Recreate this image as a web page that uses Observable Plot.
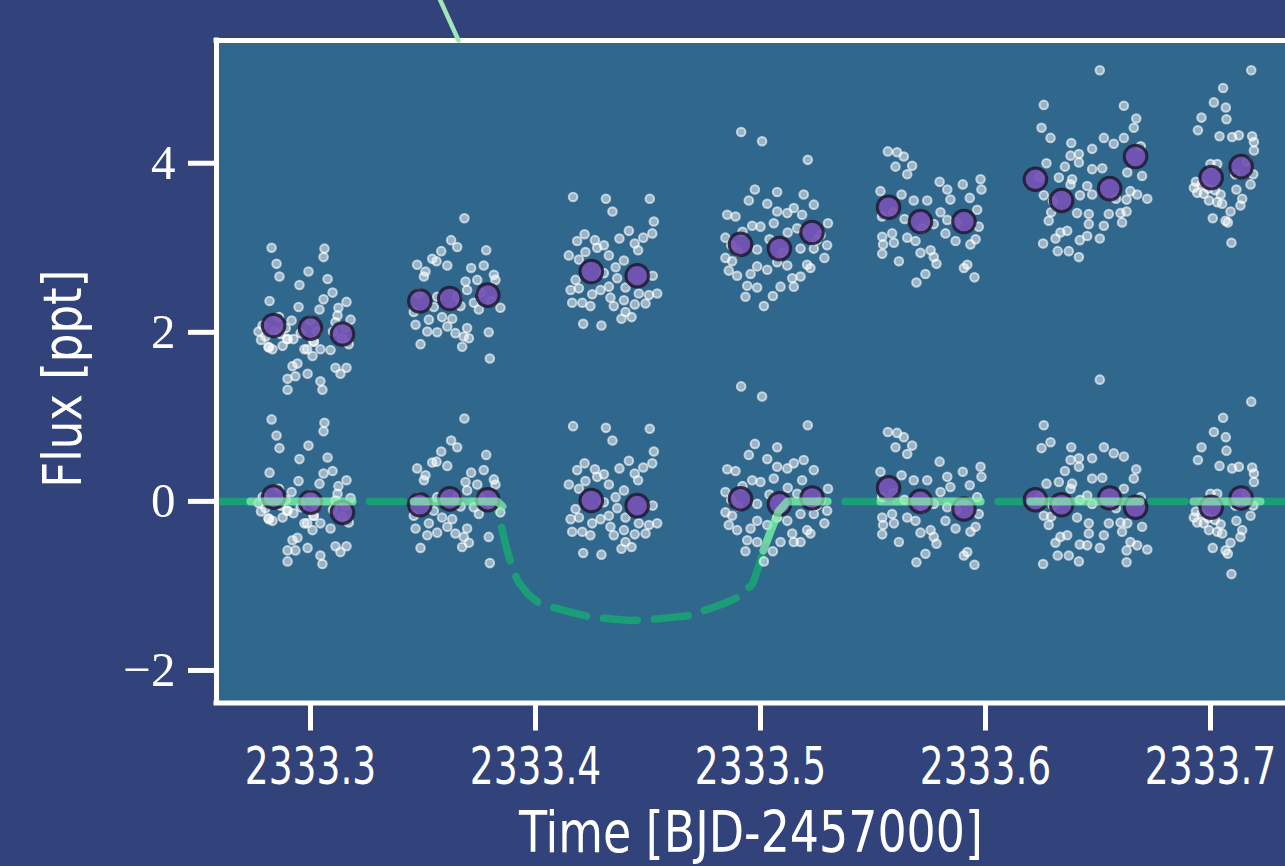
<!DOCTYPE html>
<html>
<head>
<meta charset="utf-8">
<script src="https://cdn.jsdelivr.net/npm/d3@7"></script>
<script src="https://cdn.jsdelivr.net/npm/@observablehq/plot@0.6"></script>
<style>
  html, body { margin: 0; padding: 0; background: #32437c; overflow: hidden; }
  #chart svg { display: block; }
</style>
</head>
<body>
<div id="chart"></div>
<script>
// ---------------- data ----------------
// Detrended flux [ppt] per observing block: [time BJD-2457000, flux]
const block1 = [[2333.2827,0.97],[2333.2849,0.78],[2333.2862,0.63],[2333.3062,0.93],[2333.3058,0.83],[2333.2991,0.66],[2333.2951,0.50],[2333.3076,0.52],[2333.2818,0.34],[2333.3058,0.33],[2333.3098,0.36],[2333.3160,0.25],[2333.2947,0.24],[2333.3040,0.21],[2333.3124,0.18],[2333.3120,0.09],[2333.2916,0.11],[2333.2787,0.05],[2333.2800,-0.08],[2333.2813,-0.20],[2333.2831,-0.23],[2333.2876,-0.19],[2333.2898,-0.11],[2333.2924,-0.14],[2333.2956,-0.07],[2333.3013,-0.17],[2333.3044,-0.26],[2333.2973,-0.26],[2333.3009,-0.34],[2333.3089,-0.32],[2333.2942,-0.43],[2333.2920,-0.46],[2333.2898,-0.58],[2333.2933,-0.58],[2333.2898,-0.71],[2333.2987,-0.55],[2333.3044,-0.64],[2333.3053,-0.74],[2333.3111,-0.53],[2333.3160,-0.53],[2333.3133,-0.60],[2333.3156,-0.05],[2333.3178,0.04],[2333.3111,0.01],[2333.2867,-0.05],[2333.2769,-0.02],[2333.2780,-0.12],[2333.2840,-0.02],[2333.2890,0.02],[2333.3000,0.08],[2333.3030,-0.05],[2333.3100,-0.10],[2333.3140,-0.18],[2333.2860,0.15],[2333.3170,-0.25],[2333.2815,-0.21],[2333.2896,-0.11],[2333.2985,-0.26],[2333.3015,-0.17]];
const block2 = [[2333.3684,0.98],[2333.3625,0.72],[2333.3652,0.64],[2333.3581,0.59],[2333.3541,0.46],[2333.3560,0.47],[2333.3608,0.42],[2333.3474,0.39],[2333.3511,0.31],[2333.3504,0.25],[2333.3714,0.34],[2333.3781,0.55],[2333.3770,0.37],[2333.3815,0.26],[2333.3689,0.23],[2333.3741,0.20],[2333.3822,0.20],[2333.3844,-0.13],[2333.3459,-0.17],[2333.3467,-0.32],[2333.3526,-0.26],[2333.3519,-0.40],[2333.3563,-0.37],[2333.3585,-0.19],[2333.3630,-0.21],[2333.3608,-0.30],[2333.3644,-0.38],[2333.3681,-0.42],[2333.3696,-0.32],[2333.3674,-0.54],[2333.3704,-0.49],[2333.3489,-0.55],[2333.3792,-0.42],[2333.3797,-0.73],[2333.3748,-0.15],[2333.3726,-0.07],[2333.3667,-0.06],[2333.3548,-0.11],[2333.3563,0.05],[2333.3652,0.05],[2333.3696,0.13],[2333.3756,0.05],[2333.3804,-0.05],[2333.3481,0.05]];
const block3 = [[2333.4167,0.89],[2333.4313,0.87],[2333.4342,0.72],[2333.4508,0.86],[2333.4526,0.59],[2333.4519,0.45],[2333.4479,0.40],[2333.4415,0.48],[2333.4373,0.39],[2333.4441,0.33],[2333.4456,0.25],[2333.4218,0.45],[2333.4185,0.37],[2333.4264,0.38],[2333.4304,0.32],[2333.4274,0.29],[2333.4222,0.24],[2333.4148,0.20],[2333.4326,0.20],[2333.4193,0.15],[2333.4393,0.13],[2333.4356,0.05],[2333.4304,-0.01],[2333.4363,-0.08],[2333.4178,-0.09],[2333.4156,-0.21],[2333.4193,-0.19],[2333.4521,-0.05],[2333.4326,-0.17],[2333.4289,-0.21],[2333.4252,-0.26],[2333.4333,-0.30],[2333.4400,-0.19],[2333.4459,-0.26],[2333.4504,-0.28],[2333.4541,-0.26],[2333.4163,-0.36],[2333.4208,-0.36],[2333.4244,-0.40],[2333.4348,-0.40],[2333.4393,-0.34],[2333.4441,-0.39],[2333.4489,-0.38],[2333.4400,-0.48],[2333.4382,-0.56],[2333.4427,-0.54],[2333.4212,-0.61],[2333.4293,-0.63]];
const block4 = [[2333.4914,1.36],[2333.5007,1.24],[2333.5210,0.90],[2333.4975,0.68],[2333.5074,0.64],[2333.4948,0.55],[2333.5030,0.50],[2333.4852,0.38],[2333.4889,0.36],[2333.5074,0.41],[2333.5148,0.45],[2333.5192,0.49],[2333.5237,0.37],[2333.5119,0.39],[2333.4963,0.25],[2333.5000,0.23],[2333.5059,0.27],[2333.5121,0.16],[2333.5185,0.25],[2333.5300,0.15],[2333.4844,0.11],[2333.5296,-0.11],[2333.4844,-0.13],[2333.4874,-0.17],[2333.4985,-0.23],[2333.5074,-0.19],[2333.5119,-0.23],[2333.5178,-0.15],[2333.5237,-0.15],[2333.5284,-0.26],[2333.4859,-0.28],[2333.4896,-0.34],[2333.4956,-0.32],[2333.5030,-0.28],[2333.5141,-0.38],[2333.5222,-0.38],[2333.4941,-0.46],[2333.4985,-0.48],[2333.5089,-0.48],[2333.5148,-0.48],[2333.5178,-0.48],[2333.4933,-0.59],[2333.5055,-0.59],[2333.5015,-0.71],[2333.5207,-0.34],[2333.5267,0.01],[2333.4985,-0.03],[2333.5163,0.09],[2333.4870,0.02],[2333.4900,-0.06],[2333.5040,0.08],[2333.5100,-0.08],[2333.5250,-0.05],[2333.4920,0.18]];
const block5 = [[2333.5566,0.82],[2333.5607,0.81],[2333.5637,0.76],[2333.5600,0.64],[2333.5674,0.66],[2333.5652,0.56],[2333.5796,0.47],[2333.5899,0.35],[2333.5978,0.41],[2333.5982,0.29],[2333.5533,0.35],[2333.5627,0.31],[2333.5681,0.25],[2333.5741,0.25],[2333.5830,0.29],[2333.5800,0.11],[2333.5844,0.17],[2333.5930,0.19],[2333.5963,0.05],[2333.5541,-0.19],[2333.5585,-0.15],[2333.5545,-0.28],[2333.5593,-0.26],[2333.5541,-0.39],[2333.5615,-0.48],[2333.5652,-0.19],[2333.5689,-0.23],[2333.5711,-0.37],[2333.5756,-0.34],[2333.5770,-0.42],[2333.5782,-0.50],[2333.5733,-0.62],[2333.5693,-0.72],[2333.5822,-0.23],[2333.5867,-0.32],[2333.5933,-0.36],[2333.5956,-0.30],[2333.5919,-0.60],[2333.5904,-0.64],[2333.5951,-0.75],[2333.5970,-0.15],[2333.5770,-0.03],[2333.5830,-0.07],[2333.5590,0.10],[2333.5640,0.02],[2333.5720,-0.08],[2333.5870,-0.10],[2333.5540,0.05]];
const block6 = [[2333.6508,1.44],[2333.6259,0.90],[2333.6289,0.70],[2333.6249,0.63],[2333.6381,0.64],[2333.6526,0.64],[2333.6570,0.57],[2333.6615,0.53],[2333.6474,0.51],[2333.6378,0.49],[2333.6415,0.51],[2333.6415,0.41],[2333.6670,0.38],[2333.6353,0.36],[2333.6659,0.27],[2333.6474,0.27],[2333.6519,0.28],[2333.6326,0.23],[2333.6385,0.21],[2333.6271,0.21],[2333.6378,0.15],[2333.6615,0.15],[2333.6452,0.07],[2333.6474,-0.03],[2333.6259,-0.17],[2333.6292,-0.18],[2333.6281,-0.28],[2333.6407,-0.19],[2333.6459,-0.26],[2333.6459,-0.38],[2333.6363,-0.40],[2333.6333,-0.42],[2333.6311,-0.49],[2333.6419,-0.51],[2333.6526,-0.40],[2333.6548,-0.26],[2333.6600,-0.25],[2333.6607,-0.36],[2333.6630,-0.26],[2333.6696,-0.30],[2333.6644,-0.48],[2333.6674,-0.52],[2333.6719,-0.57],[2333.6508,-0.55],[2333.6627,-0.58],[2333.6321,-0.64],[2333.6370,-0.64],[2333.6415,-0.71],[2333.6256,-0.74],[2333.6627,-0.72],[2333.6452,-0.52],[2333.6240,0.05],[2333.6300,-0.05],[2333.6420,0.02],[2333.6580,-0.08],[2333.6690,0.05]];
const block7 = [[2333.7181,1.18],[2333.7056,0.99],[2333.7015,0.82],[2333.7068,0.76],[2333.6960,0.64],[2333.7071,0.60],[2333.6944,0.49],[2333.7040,0.42],[2333.7096,0.39],[2333.7126,0.41],[2333.7185,0.40],[2333.7193,0.33],[2333.7193,0.23],[2333.7030,0.09],[2333.7000,0.09],[2333.7178,-0.17],[2333.7115,-0.23],[2333.6941,-0.25],[2333.6970,-0.26],[2333.6993,-0.34],[2333.7030,-0.36],[2333.7052,-0.38],[2333.7141,-0.34],[2333.7133,-0.42],[2333.7089,-0.49],[2333.7010,-0.55],[2333.7067,-0.58],[2333.7077,-0.62],[2333.7093,-0.86],[2333.6926,-0.19],[2333.6935,-0.12],[2333.6960,-0.15],[2333.6990,-0.20],[2333.7020,-0.22],[2333.7045,-0.27],[2333.7110,-0.05],[2333.7160,0.10],[2333.7190,-0.05]];

// Binned points: time, detrended flux, raw (un-detrended) flux
const binTime = [2333.2836, 2333.3000, 2333.3142, 2333.3486, 2333.3619, 2333.3788, 2333.4248, 2333.4452, 2333.4911, 2333.5084, 2333.5229, 2333.5569, 2333.5711, 2333.5904, 2333.6222, 2333.6338, 2333.6552, 2333.6667, 2333.7003, 2333.7136];
const binDetrended = [0.05, -0.01, -0.13, -0.04, 0.03, 0.02, 0.01, -0.05, 0.03, -0.03, 0.04, 0.16, 0.00, -0.09, 0.02, -0.04, 0.04, -0.07, -0.07, 0.04];
const binRaw = [2.08, 2.05, 1.98, 2.37, 2.40, 2.44, 2.72, 2.67, 3.04, 2.99, 3.18, 3.48, 3.31, 3.31, 3.81, 3.56, 3.70, 4.08, 3.83, 3.96];

// Transit model (dashed)
const modelTime = [2333.2582, 2333.3822, 2333.3844, 2333.3871, 2333.3898, 2333.3924, 2333.3964, 2333.4009, 2333.4098, 2333.4244, 2333.4422, 2333.4542, 2333.4689, 2333.4836, 2333.4902, 2333.4964, 2333.4991, 2333.5013, 2333.5044, 2333.5080, 2333.5120, 2333.7333];
const modelFlux = [0, 0, -0.25, -0.55, -0.80, -0.95, -1.09, -1.19, -1.27, -1.37, -1.41, -1.39, -1.35, -1.21, -1.13, -0.98, -0.78, -0.58, -0.36, -0.12, 0, 0];

// Model sampled over the observing blocks (light solid line)
const sampledTime = [2333.2733, 2333.3187, 2333.3458, 2333.3830, 2333.3853, 2333.5013, 2333.5044, 2333.5080, 2333.5120, 2333.5298, 2333.5533, 2333.5978, 2333.6200, 2333.6689, 2333.6924, 2333.7222];
const sampledFlux = [0, 0, 0, 0, -0.06, -0.58, -0.36, -0.12, 0, 0, 0, 0, 0, 0, 0, 0];
const sampledBlock = [1, 1, 2, 2, 2, 4, 4, 4, 4, 4, 5, 5, 6, 6, 7, 7];

// Connector line coming from the panel above
const connectorTime = [2333.3556, 2333.3658];
const connectorFlux = [6.05, 5.452];

const xTicks = [2333.3, 2333.4, 2333.5, 2333.6, 2333.7];
const yTicks = [-2, 0, 2, 4];
const xDomain = [2333.25822, 2333.73333];
const yDomain = [-2.385, 5.452];
const xLabel = "Time [BJD-2457000]";
const yLabel = "Flux [ppt]";

// ---------------- build rows ----------------
const blocks = [block1, block2, block3, block4, block5, block6, block7];
const detrendedRows = blocks.flat().map(([t, f]) => ({t, f}));
function nearestBin(t) {
  let best = 0;
  for (let i = 1; i < binTime.length; i++) if (Math.abs(binTime[i] - t) < Math.abs(binTime[best] - t)) best = i;
  return best;
}
const rawRows = detrendedRows.map(d => {
  const i = nearestBin(d.t);
  return {t: d.t, f: d.f + (binRaw[i] - binDetrended[i])};
});
const binRows = binTime.flatMap((t, i) => [{t, f: binDetrended[i]}, {t, f: binRaw[i]}]);
const modelRows = modelTime.map((t, i) => ({t, f: modelFlux[i]}));
const sampledRows = sampledTime.map((t, i) => ({t, f: sampledFlux[i], b: sampledBlock[i]}));
const connectorRows = connectorTime.map((t, i) => ({t, f: connectorFlux[i]}));

const sansFont = "'DejaVu Sans Condensed', 'DejaVu Sans', sans-serif";
const serifFont = "'Liberation Serif', 'DejaVu Serif', serif";

const chart = Plot.plot({
  width: 1285,
  height: 866,
  marginLeft: 216,
  marginRight: 0,
  marginTop: 40,
  marginBottom: 163.5,
  style: {background: "transparent", color: "white", overflow: "visible"},
  x: {domain: xDomain},
  y: {domain: yDomain},
  marks: [
    Plot.frame({fill: "#30678c", stroke: null}),
    Plot.line(modelRows, {x: "t", y: "f", stroke: "#1b9e77", strokeWidth: 7.5, strokeDasharray: "34,17"}),
    Plot.dot(detrendedRows.concat(rawRows), {x: "t", y: "f", r: 4.3, fill: "white", fillOpacity: 0.5, stroke: "white", strokeOpacity: 0.62, strokeWidth: 2}),
    Plot.dot(binRows, {x: "t", y: "f", r: 11.3, fill: "#7552b4", fillOpacity: 0.92, stroke: "#1e1a2e", strokeOpacity: 0.85, strokeWidth: 3}),
    Plot.line(sampledRows, {x: "t", y: "f", z: "b", stroke: "#86f0b0", strokeOpacity: 0.72, strokeWidth: 8}),
    Plot.ruleX([xDomain[0]], {stroke: "white", strokeWidth: 5, strokeLinecap: "square"}),
    Plot.ruleY([yDomain[0], yDomain[1]], {stroke: "white", strokeWidth: 5, strokeLinecap: "square"}),
    Plot.axisX({ticks: xTicks, tickFormat: d => d.toFixed(1), tickSize: 28, tickPadding: 17, strokeWidth: 5, fontSize: 51, fontFamily: sansFont, label: null}),
    Plot.axisY({ticks: yTicks, tickSize: 28, tickPadding: 13, strokeWidth: 5, fontSize: 49, fontFamily: serifFont, label: null}),
    Plot.text([xLabel], {frameAnchor: "bottom", dy: 109, lineAnchor: "top", fontSize: 57, fontFamily: sansFont, fill: "white"}),
    Plot.text([yLabel], {frameAnchor: "left", textAnchor: "middle", dx: -152, dy: 7, rotate: -90, lineAnchor: "middle", fontSize: 53, fontFamily: sansFont, fill: "white"}),
    Plot.line(connectorRows, {x: "t", y: "f", stroke: "#9fe7b6", strokeWidth: 4.5})
  ]
});
document.getElementById("chart").appendChild(chart);

// Narrow the sans text (horizontal scale about its anchor) to match the condensed face of the reference
function squeeze(el, k) {
  const tr = el.getAttribute("transform") || "";
  el.setAttribute("transform", (tr + ` scale(${k},1)`).trim());
}
chart.querySelectorAll('g[aria-label="x-axis tick label"] text').forEach(t => squeeze(t, 0.82));
chart.querySelectorAll("text").forEach(t => {
  if (t.textContent === xLabel) squeeze(t, 464 / t.getComputedTextLength());
  if (t.textContent === yLabel) squeeze(t, 218 / t.getComputedTextLength());
});
</script>
</body>
</html>
